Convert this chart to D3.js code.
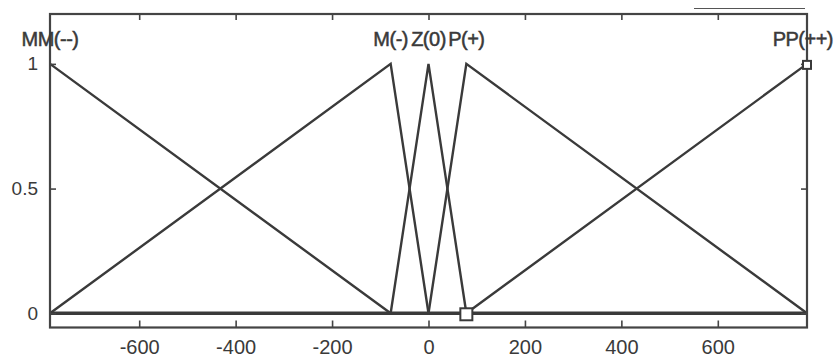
<!DOCTYPE html>
<html>
<head>
<meta charset="utf-8">
<script src="https://cdn.jsdelivr.net/npm/d3@7"></script>
<style>
  html, body { margin: 0; padding: 0; background: #fff; }
  svg { display: block; }
  text { font-family: "Liberation Sans", Arial, sans-serif; fill: #3a3a3a; }
</style>
</head>
<body>
<svg id="chart" width="835" height="358"></svg>
<script>
// Input universe of discourse
const xRange = [-785, 785];
const yRange = [-0.057, 1.2];

// Triangular membership functions [a, b, c]
const mfNames = ["MM(--)", "M(-)", "Z(0)", "P(+)", "PP(++)"];
const mfParams = [
  [-1570, -785, -78.5],
  [-785, -78.5, 0],
  [-78.5, 0, 78.5],
  [0, 78.5, 785],
  [78.5, 785, 1570]
];

const xTicks = [-600, -400, -200, 0, 200, 400, 600];
const yTicks = [0, 0.5, 1];
const yTickLabels = ["0", "0.5", "1"];

// Highlighted points
const markers = [
  { x: 78.5, y: 0, size: 12 },
  { x: 785, y: 1, size: 8 }
];

const W = 835;
const svg = d3.select("#chart");
const plotL = 50, plotR = 807, plotT = 14, plotB = 327.5;
const ink = "#3a3a3a";

const x = d3.scaleLinear().domain(xRange).range([plotL, plotR]);
const y = d3.scaleLinear().domain(yRange).range([plotB, plotT]);

function trimf(v, [a, b, c]) {
  if (v === b) return 1;
  if (v <= a || v >= c) return 0;
  return v <= b ? (v - a) / (b - a) : (c - v) / (c - b);
}

function mfPoints(p) {
  const xs = [xRange[0], ...p, xRange[1]]
    .filter(v => v >= xRange[0] && v <= xRange[1])
    .sort((m, n) => m - n);
  return xs.map(v => [v, trimf(v, p)]);
}

// short rule above the frame
svg.append("line")
  .attr("x1", 694).attr("x2", 805).attr("y1", 8.5).attr("y2", 8.5)
  .attr("stroke", "#555").attr("stroke-width", 1);

// zero level, where all curves overlap
svg.append("line")
  .attr("x1", x(xRange[0])).attr("x2", x(xRange[1]))
  .attr("y1", y(0)).attr("y2", y(0))
  .attr("stroke", ink).attr("stroke-width", 3.6);

// membership curves
const line = d3.line().x(d => x(d[0])).y(d => y(d[1]));
svg.append("g")
  .selectAll("path")
  .data(mfParams)
  .join("path")
  .attr("d", p => line(mfPoints(p)))
  .attr("fill", "none")
  .attr("stroke", ink)
  .attr("stroke-width", 2.4)
  .attr("stroke-linejoin", "miter");

// frame
svg.append("rect")
  .attr("x", plotL).attr("y", plotT)
  .attr("width", plotR - plotL).attr("height", plotB - plotT)
  .attr("fill", "none").attr("stroke", "#444").attr("stroke-width", 2.2);

// bottom axis (ticks pointing inward)
const xAxis = svg.append("g")
  .attr("transform", `translate(0,${plotB})`)
  .call(d3.axisBottom(x).tickValues(xTicks).tickSize(-7).tickFormat(d => d < 0 ? "-" + Math.abs(d) : String(d)));
xAxis.select(".domain").remove();
xAxis.selectAll("line").attr("stroke", "#444").attr("stroke-width", 1.6);
xAxis.selectAll("text").attr("font-size", 20).attr("fill", "#3a3a3a")
  .attr("y", 12).attr("dy", "0.71em");

// top ticks
const xTop = svg.append("g")
  .attr("transform", `translate(0,${plotT})`)
  .call(d3.axisTop(x).tickValues(xTicks).tickSize(-6).tickFormat(""));
xTop.select(".domain").remove();
xTop.selectAll("line").attr("stroke", "#444").attr("stroke-width", 1.6);

// left axis
const yAxis = svg.append("g")
  .attr("transform", `translate(${plotL},0)`)
  .call(d3.axisLeft(y).tickValues(yTicks).tickSize(-6).tickPadding(12)
    .tickFormat((d, i) => yTickLabels[i]));
yAxis.select(".domain").remove();
yAxis.selectAll("line").attr("stroke", "#444").attr("stroke-width", 1.6);
yAxis.selectAll("text").attr("font-size", 19).attr("fill", "#3a3a3a");

// right ticks
const yRight = svg.append("g")
  .attr("transform", `translate(${plotR},0)`)
  .call(d3.axisRight(y).tickValues(yTicks).tickSize(-6).tickFormat(""));
yRight.select(".domain").remove();
yRight.selectAll("line").attr("stroke", "#444").attr("stroke-width", 1.6);

// membership function names at their peaks, kept inside the page
svg.append("g")
  .selectAll("text")
  .data(mfParams)
  .join("text")
  .attr("x", p => x(p[1]))
  .attr("y", y(1.1))
  .attr("dy", "0.35em")
  .attr("text-anchor", "middle")
  .attr("font-size", 20)
  .attr("letter-spacing", "-0.5px")
  .attr("fill", "#3a3a3a")
  .attr("stroke", "#3a3a3a")
  .attr("stroke-width", 0.5)
  .text((p, i) => mfNames[i])
  .each(function () {
    const bb = this.getBBox();
    const over = bb.x + bb.width - (W - 2);
    if (over > 0) d3.select(this).attr("x", +d3.select(this).attr("x") - over);
    if (bb.x < 0) d3.select(this).attr("x", +d3.select(this).attr("x") - bb.x);
  });

// square markers
svg.append("g")
  .selectAll("rect")
  .data(markers)
  .join("rect")
  .attr("x", d => x(d.x) - d.size / 2)
  .attr("y", d => y(d.y) - d.size / 2 + 1)
  .attr("width", d => d.size)
  .attr("height", d => d.size)
  .attr("fill", "#fff")
  .attr("stroke", ink)
  .attr("stroke-width", 2);
</script>
</body>
</html>
